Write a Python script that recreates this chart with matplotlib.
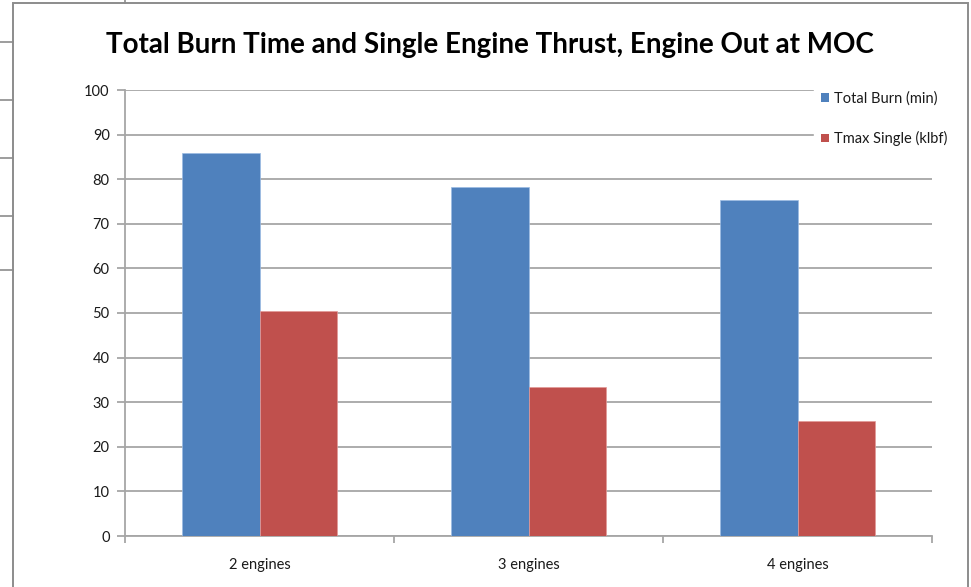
import matplotlib
matplotlib.use("Agg")
import matplotlib.pyplot as plt
from matplotlib.patches import Patch, Rectangle
from matplotlib.lines import Line2D
import numpy as np

categories = ["2 engines", "3 engines", "4 engines"]
total_burn = [85.8, 78.2, 75.3]
tmax_single = [50.4, 33.4, 25.8]
series_labels = ["Total Burn (min)", "Tmax Single (klbf)"]
y_ticks = [0, 10, 20, 30, 40, 50, 60, 70, 80, 90, 100]

W, H = 971, 587
plt.rcParams["font.family"] = ["Lato", "DejaVu Sans"]

fig = plt.figure(figsize=(W / 100, H / 100), dpi=100)
fig.patch.set_facecolor("white")

# chart frame and neighbouring sheet lines
grey = "#8c8c8c"
fig.add_artist(Rectangle((13 / W, -0.01), (968 - 13) / W, (H - 3) / H + 0.01,
                         transform=fig.transFigure, fill=False,
                         edgecolor=grey, linewidth=1.4))
for yy in [42, 100, 158, 216, 270]:
    fig.add_artist(Line2D([0, 13 / W], [1 - yy / H, 1 - yy / H],
                          transform=fig.transFigure, color=grey, linewidth=1.2))
fig.add_artist(Line2D([125 / W, 125 / W], [1, 1 - 3 / H],
                      transform=fig.transFigure, color=grey, linewidth=1.2))

ax = fig.add_axes([125 / W, (H - 536) / H, (932 - 125) / W, (536 - 90) / H])
x = np.arange(len(categories))
bw = 0.287
blue = "#4F81BD"
red = "#C0504D"
ax.bar(x - bw / 2, total_burn, bw, color=blue, edgecolor="#9bbbe3",
       linewidth=0.5, zorder=3)
ax.bar(x + bw / 2, tmax_single, bw, color=red, edgecolor="#e39a98",
       linewidth=0.5, zorder=3)

ax.set_xlim(-0.5, len(categories) - 0.5)
ax.set_ylim(0, 100)
ax.set_yticks(y_ticks)
ax.set_yticklabels([str(v) for v in y_ticks], fontsize=10.5, color="#1a1a1a")
ax.yaxis.grid(True, color="#a6a6a6", linewidth=1.3, zorder=0)
ax.set_axisbelow(True)

ax.set_xticks(x)
ax.set_xticklabels(categories, fontsize=10.5, color="#1a1a1a")
ax.tick_params(axis="x", which="major", length=0, pad=16)
ax.set_xticks(np.arange(-0.5, len(categories)), minor=True)
ax.tick_params(axis="x", which="minor", length=5, color="#a6a6a6", width=1.3)
ax.tick_params(axis="y", length=6, color="#a6a6a6", width=1.3, pad=5)

for s in ["top", "right"]:
    ax.spines[s].set_visible(False)
for s in ["left", "bottom"]:
    ax.spines[s].set_color("#a6a6a6")
    ax.spines[s].set_linewidth(1.3)

fig.text(490 / W, 1 - 45 / H,
         "Total Burn Time and Single Engine Thrust, Engine Out at MOC",
         ha="center", va="center", fontsize=20, fontweight="bold", color="black")

handles = [Patch(facecolor=blue), Patch(facecolor=red)]
leg = fig.legend(handles, series_labels, loc="upper left",
                 bbox_to_anchor=(814 / W, 1 - 84 / H), frameon=True,
                 fontsize=10.5, handlelength=0.55, handleheight=0.55,
                 handletextpad=0.35, labelspacing=1.75, borderpad=0.5,
                 borderaxespad=0)
leg.get_frame().set_facecolor("white")
leg.get_frame().set_edgecolor("white")
leg.get_frame().set_alpha(1)
for t in leg.get_texts():
    t.set_color("#1a1a1a")

fig.savefig("out.png", dpi=100, facecolor="white")
